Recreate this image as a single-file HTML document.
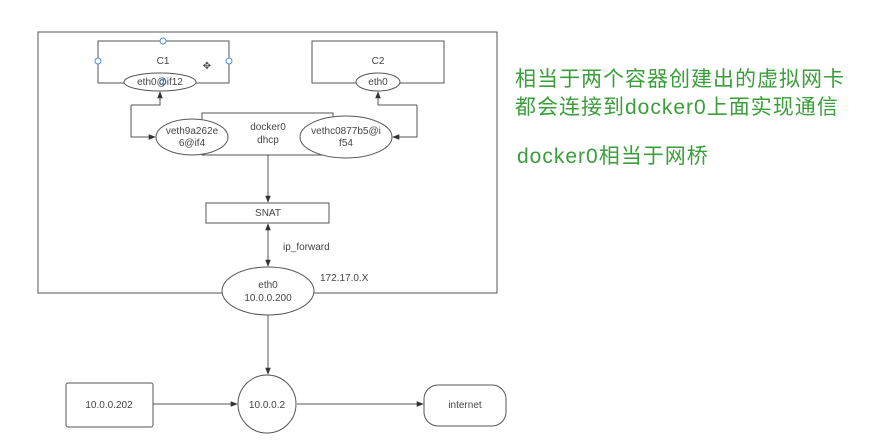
<!DOCTYPE html>
<html><head><meta charset="utf-8"><style>
html,body{margin:0;padding:0;background:#fff;width:869px;height:442px;overflow:hidden}
svg text{font-family:"Liberation Sans",Arial,sans-serif;font-size:10px;fill:#444}
.cn{font-family:"Liberation Sans","Noto Sans CJK SC",sans-serif;font-size:21px;fill:#3a9e3a;letter-spacing:1px}
</style></head><body>
<svg width="869" height="442" viewBox="0 0 869 442" xmlns="http://www.w3.org/2000/svg">
<defs><marker id="a" viewBox="0 0 10 10" refX="9" refY="5" markerWidth="7" markerHeight="7" orient="auto-start-reverse"><path d="M0,1 L10,5 L0,9 z" fill="#333"/></marker></defs>
<g fill="none" stroke="#555" stroke-width="1">
<rect x="38" y="32" width="459" height="261"/>
<rect x="98" y="41" width="131" height="42"/>
<rect x="312" y="41" width="132" height="42"/>
<rect x="202" y="113" width="131" height="42"/>
<rect x="206" y="203" width="123" height="20"/>
<rect x="66" y="383" width="87" height="44" rx="2"/>
<rect x="424" y="385" width="82" height="41" rx="14"/>
<path d="M131,105 L160,105 L160,92" marker-end="url(#a)"/>
<path d="M131,105 L131,137 L155,137" marker-end="url(#a)"/>
<path d="M417,105 L378,105 L378,92" marker-end="url(#a)"/>
<path d="M417,105 L417,137 L393,137" marker-end="url(#a)"/>
<path d="M268,155 L268,202" marker-end="url(#a)"/>
<path d="M268,224 L268,266" marker-start="url(#a)" marker-end="url(#a)"/>
<path d="M268,315 L268,374" marker-end="url(#a)"/>
<path d="M153,404 L237,404" marker-end="url(#a)"/>
<path d="M297,404 L423,404" marker-end="url(#a)"/>
</g>
<g fill="#fff" stroke="#555">
<ellipse cx="160" cy="82" rx="36" ry="9"/>
<ellipse cx="378" cy="82" rx="22" ry="9"/>
<ellipse cx="192" cy="137" rx="36" ry="18"/>
<ellipse cx="346" cy="137" rx="46" ry="21"/>
<ellipse cx="268" cy="291" rx="46" ry="24"/>
<circle cx="267" cy="404" r="29"/>
</g>
<g fill="#fff" stroke="#4a90d9"><circle cx="163" cy="41" r="3"/><circle cx="98" cy="61" r="3"/><circle cx="229" cy="61" r="3"/><circle cx="163" cy="82" r="3"/></g>
<text x="163" y="64" text-anchor="middle">C1</text>
<text x="207" y="69" text-anchor="middle" font-size="14">✥</text>
<text x="378" y="64" text-anchor="middle">C2</text>
<text x="160" y="85" text-anchor="middle">eth0@if12</text>
<text x="378" y="85" text-anchor="middle">eth0</text>
<text x="192" y="134" text-anchor="middle">veth9a262e</text>
<text x="192" y="146" text-anchor="middle">6@if4</text>
<text x="346" y="134" text-anchor="middle">vethc0877b5@i</text>
<text x="346" y="146" text-anchor="middle">f54</text>
<text x="268" y="130" text-anchor="middle">docker0</text>
<text x="268" y="143" text-anchor="middle">dhcp</text>
<text x="268" y="216" text-anchor="middle">SNAT</text>
<text x="283" y="250">ip_forward</text>
<text x="320" y="281">172.17.0.X</text>
<text x="268" y="288" text-anchor="middle">eth0</text>
<text x="268" y="301" text-anchor="middle">10.0.0.200</text>
<text x="109" y="408" text-anchor="middle">10.0.0.202</text>
<text x="267" y="408" text-anchor="middle">10.0.0.2</text>
<text x="465" y="408" text-anchor="middle">internet</text>
<text class="cn" x="515" y="86">相当于两个容器创建出的虚拟网卡</text>
<text class="cn" x="515" y="114">都会连接到docker0上面实现通信</text>
<text class="cn" x="517" y="163">docker0相当于网桥</text>
</svg>
</body></html>
